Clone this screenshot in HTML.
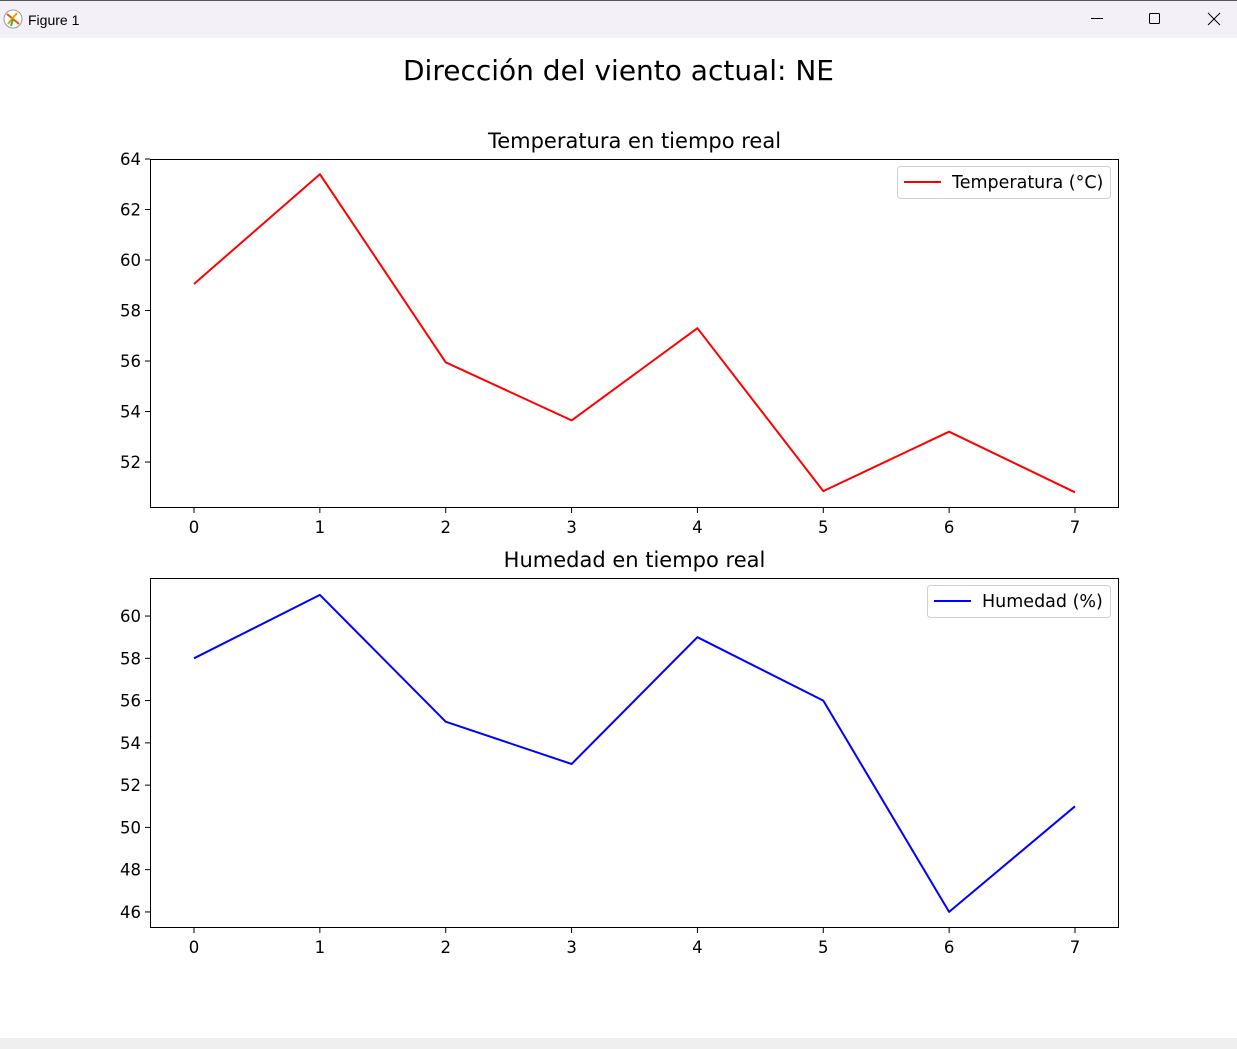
<!DOCTYPE html>
<html><head><meta charset="utf-8">
<style>
html,body{margin:0;padding:0;background:#fff;width:1237px;height:1049px;overflow:hidden;font-family:"DejaVu Sans","Liberation Sans",sans-serif;}
svg text{font-family:"DejaVu Sans","Liberation Sans",sans-serif;}
</style></head>
<body>
<svg id="fig" width="1237" height="1049" xmlns="http://www.w3.org/2000/svg">
<rect x="0" y="0" width="1237" height="38" fill="#f3f0f7"/>
<line x1="0" y1="0.5" x2="1237" y2="0.5" stroke="#555" stroke-width="1"/>
<g>
<circle cx="13" cy="19" r="9" fill="#fff" stroke="#999"/>
<line x1="7" y1="14" x2="19" y2="24" stroke="#e65c00" stroke-width="2"/>
<line x1="8" y1="24" x2="17" y2="13" stroke="#f0a000" stroke-width="2"/>
<line x1="13" y1="19" x2="11" y2="26" stroke="#4a4" stroke-width="2"/>
</g>
<text x="28" y="25" font-size="14" fill="#000" style="font-family:'Liberation Sans',sans-serif">Figure 1</text>
<line x1="1091" y1="18.5" x2="1103" y2="18.5" stroke="#000"/>
<rect x="1149.5" y="13.5" width="10" height="10" fill="none" stroke="#000" rx="1"/>
<g stroke="#000"><line x1="1208" y1="13" x2="1220" y2="25"/><line x1="1220" y1="13" x2="1208" y2="25"/></g>
<rect x="0" y="1038" width="1237" height="11" fill="#efefef"/>
<text x="618.5" y="80" font-size="28" text-anchor="middle" fill="#000">Dirección del viento actual: NE</text>
<g id="c1"></g>
<g id="c2"></g>
</svg>
<script>
const xCats=[0,1,2,3,4,5,6,7];
const tempValues=[59.05,63.4,55.95,53.65,57.3,50.85,53.2,50.8];
const humValues=[58,61,55,53,59,56,46,51];
const tempTicks=[52,54,56,58,60,62,64];
const humTicks=[46,48,50,52,54,56,58,60];
const NS="http://www.w3.org/2000/svg";
function mk(p,tag,attrs){const e=document.createElementNS(NS,tag);for(const k in attrs)e.setAttribute(k,attrs[k]);p.appendChild(e);return e;}
function chart(g,cfg){
  const L=150,R=1119,T=cfg.top,B=cfg.bottom;
  const xs=v=>194+(v-0)*(1075-194)/7;
  const ys=v=>T+(cfg.ymax-v)*(B-T)/(cfg.ymax-cfg.ymin);
  const t=mk(g,'text',{x:(L+R)/2,y:T-11,'font-size':'21','text-anchor':'middle',fill:'#000'});
  t.textContent=cfg.title;
  
  
  const pts=cfg.vals.map((v,i)=>xs(xCats[i]).toFixed(1)+','+ys(v).toFixed(1)).join(' ');
  const pl=mk(g,'polyline',{points:pts,fill:'none',stroke:cfg.color,'stroke-width':'2','stroke-linejoin':'round'});
  
  
  const fr=mk(g,'rect',{x:L+0.5,y:T+0.5,width:R-L-1,height:B-T-1,fill:'none',stroke:'#000','stroke-width':'1'});
  
  
  xCats.forEach(c=>{
    const x=xs(c);
    mk(g,'line',{x1:x,y1:B,x2:x,y2:B+5,stroke:'#000'});
    const tx=mk(g,'text',{x:x,y:B+25,'font-size':'16.5','text-anchor':'middle',fill:'#000'});
    tx.textContent=c;
    
    
  });
  cfg.ticks.forEach(v=>{
    const y=ys(v);
    mk(g,'line',{x1:L-5,y1:y,x2:L,y2:y,stroke:'#000'});
    const ty=mk(g,'text',{x:L-9,y:y+6,'font-size':'16.5','text-anchor':'end',fill:'#000'});
    ty.textContent=v;
    
    
  });
  const lg=mk(g,'g',{});
  
  
  mk(lg,'rect',{x:cfg.lgx+0.5,y:T+7.5,width:R-9-cfg.lgx,height:32,rx:3,fill:'#fff',stroke:'#d0d0d0'});
  mk(lg,'line',{x1:cfg.lgx+7,y1:T+23,x2:cfg.lgx+44,y2:T+23,stroke:cfg.color,'stroke-width':'2'});
  const lt=mk(lg,'text',{x:cfg.lgx+55,y:T+29,'font-size':'17.5',fill:'#000'});
  lt.textContent=cfg.label;
}
chart(document.getElementById('c1'),{key:'temperature',title:'Temperatura en tiempo real',top:159,bottom:508,ymin:50.18,ymax:64,vals:tempValues,ticks:tempTicks,color:'#ff0000',label:'Temperatura (°C)',lgx:897});
chart(document.getElementById('c2'),{key:'humidity',title:'Humedad en tiempo real',top:578,bottom:928,ymin:45.24,ymax:61.8,vals:humValues,ticks:humTicks,color:'#0000ff',label:'Humedad (%)',lgx:927});
</script>
</body></html>
